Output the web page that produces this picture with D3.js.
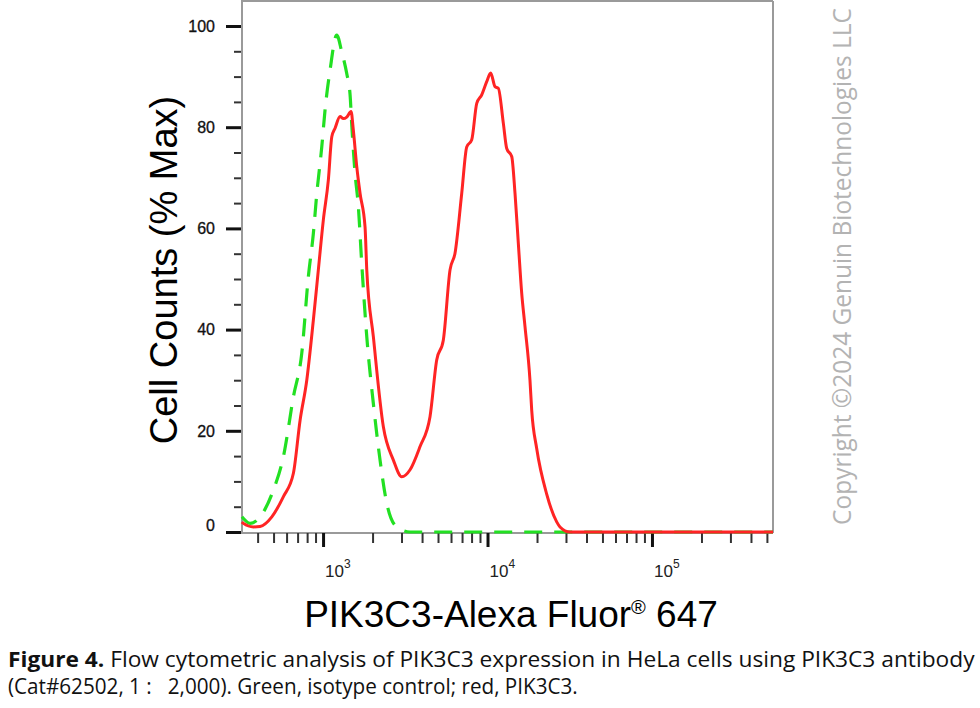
<!DOCTYPE html>
<html>
<head>
<meta charset="utf-8">
<script src="https://cdn.jsdelivr.net/npm/d3@7"></script>
<style>
  body { margin: 0; background: #fff; }
  svg { display: block; }
</style>
</head>
<body>
<div id="chart"></div>
<script>
  // PIK3C3 (red) and isotype control (green): fluorescence vs % of max
  const redX = [321, 328, 377, 414, 488, 574, 660, 725, 796, 873, 936, 1004, 1077, 1130, 1183,
    1269, 1328, 1393, 1480, 1528, 1603, 1679, 1800, 1844, 2022, 2326, 2676, 3009, 3381, 3888,
    4470, 4909, 5385, 5916, 6344, 6968, 7474, 8017, 8599, 9221, 9888, 10458, 11106, 11635, 12477,
    13085, 14034, 14697, 15392, 16139, 16904, 18120, 18565, 19910, 22900, 26340, 27590, 31730, 544500];
  const redY = [2.0, 1.7, 1.0, 1.1, 3.0, 7.0, 11.6, 22.1, 30, 41.9, 51.8, 61.7, 69.6, 78.1, 79.8,
    82.1, 81.7, 82, 83.1, 79.4, 72.2, 66.9, 60.3, 51.8, 38.6, 20.8, 14.2, 10.9, 12.3, 16.9,
    22.8, 34, 37.9, 51.8, 55.1, 66.9, 76.1, 77.5, 84.7, 86.4, 89, 90.7, 88, 87.7, 80.8,
    75.8, 74.2, 66.9, 57.1, 47.2, 40.6, 30, 24.1, 16.5, 7.5, 2, 1, 0, 0];

  const greenX = [321, 360, 414, 499, 574, 660, 742, 814, 873, 916, 982, 1028, 1103, 1211, 1299,
    1393, 1459, 1494, 1565, 1639, 1719, 1844, 2022, 2221, 2439, 2806, 3381, 544500];
  const greenY = [3, 1.7, 3, 8.3, 14.9, 26.7, 35.3, 50.5, 59, 66.9, 76.1, 83.4, 91.3, 98.2, 94.9,
    90.6, 86.5, 80.5, 70.9, 64.3, 53, 38.6, 25.4, 14.2, 5.7, 1.0, 0, 0];

  const yTicks = [0, 20, 40, 60, 80, 100];
  const yMinorTicks = [5, 10, 15, 25, 30, 35, 45, 50, 55, 65, 70, 75, 85, 90, 95];
  const xMajorTicks = [1e3, 1e4, 1e5];
  const xMinorTicks = [400, 500, 600, 700, 800, 900, 2000, 3000, 4000, 5000, 6000, 7000, 8000, 9000,
    20000, 30000, 40000, 50000, 60000, 70000, 80000, 90000, 200000, 300000, 400000, 500000];
  const xExponents = [3, 4, 5];

  const w = 980, h = 708;
  const boxL = 242, boxR = 773, boxT = 1, boxB = 533;

  const svg = d3.select("#chart")
    .append("svg")
    .attr("width", w)
    .attr("height", h);

  const x = d3.scaleLog().domain([321.4, 544500]).range([boxL, boxR]);
  const y = d3.scaleLinear().domain([0, 100]).range([532, 26]);

  function frameLine(pts, width) {
    svg.append("path")
      .attr("d", d3.line()(pts))
      .style("fill", "none")
      .style("stroke", "#9a9a9a")
      .style("stroke-width", width + "px");
  }

  // plot box
  frameLine([[boxL, boxT], [boxR, boxT]], 2);
  frameLine([[boxR, boxT], [boxR, boxB]], 2);
  frameLine([[boxL, 0], [boxL, boxB + 1]], 2);
  frameLine([[boxL, boxB], [boxR, boxB]], 2);

  // y ticks
  const yMajor = svg.append("g")
    .attr("transform", `translate(${boxL - 1},0)`)
    .call(d3.axisLeft(y).tickValues(yTicks).tickSize(15).tickFormat(""));
  yMajor.select(".domain").remove();
  yMajor.selectAll("line").style("stroke", "#111").style("stroke-width", "3px");

  const yMinor = svg.append("g")
    .attr("transform", `translate(${boxL - 1},0)`)
    .call(d3.axisLeft(y).tickValues(yMinorTicks).tickSize(7).tickFormat(""));
  yMinor.select(".domain").remove();
  yMinor.selectAll("line").style("stroke", "#333").style("stroke-width", "2px");

  svg.append("g").selectAll("text")
    .data(yTicks)
    .join("text")
    .attr("x", 215)
    .attr("y", d => Math.min(y(d), 525))
    .attr("dy", "0.36em")
    .attr("text-anchor", "end")
    .style("font-family", "'Liberation Sans', Arial, sans-serif")
    .style("font-size", "16px")
    .style("fill", "#111")
    .style("stroke", "#111")
    .style("stroke-width", "0.3px")
    .text(d => d);

  // x ticks
  const xMajor = svg.append("g")
    .attr("transform", `translate(0,${boxB})`)
    .call(d3.axisBottom(x).tickValues(xMajorTicks).tickSize(14).tickFormat(""));
  xMajor.select(".domain").remove();
  xMajor.selectAll("line").style("stroke", "#111").style("stroke-width", "3px");

  const xMinor = svg.append("g")
    .attr("transform", `translate(0,${boxB})`)
    .call(d3.axisBottom(x).tickValues(xMinorTicks).tickSize(10).tickFormat(""));
  xMinor.select(".domain").remove();
  xMinor.selectAll("line").style("stroke", "#333").style("stroke-width", "2px");

  const xl = svg.append("g").selectAll("text")
    .data(xExponents)
    .join("text")
    .attr("x", d => x(Math.pow(10, d)) + 2)
    .attr("y", 577)
    .style("font-family", "'Liberation Sans', Arial, sans-serif")
    .style("font-size", "17px")
    .style("fill", "#222");
  xl.append("tspan").text("10");
  xl.append("tspan").attr("dy", -9).style("font-size", "12px").text(d => d);

  // histograms
  const line = d3.line()
    .x(d => x(d[0]))
    .y(d => y(d[1]))
    .curve(d3.curveMonotoneX);

  svg.append("path")
    .attr("d", line(greenX.map((v, i) => [v, greenY[i]])))
    .style("fill", "none")
    .style("stroke", "#22e022")
    .style("stroke-width", "3.2px")
    .style("stroke-dasharray", "18,12");

  svg.append("path")
    .attr("d", line(redX.map((v, i) => [v, redY[i]])))
    .style("fill", "none")
    .style("stroke", "#ff2424")
    .style("stroke-width", "3px")
    .style("stroke-linejoin", "round");

  // axis titles
  svg.append("text")
    .attr("transform", "translate(177,270) rotate(-90)")
    .attr("text-anchor", "middle")
    .style("font-family", "'Liberation Sans', Arial, sans-serif")
    .style("font-size", "38px")
    .style("fill", "#000")
    .text("Cell Counts (% Max)");

  const xt = svg.append("text")
    .attr("x", 511)
    .attr("y", 627)
    .attr("text-anchor", "middle")
    .style("font-family", "'Liberation Sans', Arial, sans-serif")
    .style("font-size", "37px")
    .style("fill", "#000");
  xt.append("tspan").text("PIK3C3-Alexa Fluor");
  xt.append("tspan").attr("dy", -13).style("font-size", "20px").text("\u00ae");
  xt.append("tspan").attr("dy", 13).text(" 647");

  // watermark
  function fitText(sel, target) {
    const len = sel.node().getComputedTextLength();
    return target / len;
  }

  const cr = svg.append("text")
    .attr("text-anchor", "middle")
    .style("font-family", "'Open Sans', sans-serif")
    .style("font-size", "25px")
    .style("fill", "#b3b3b3")
    .text("Copyright \u00a92024 Genuin Biotechnologies LLC");
  cr.attr("transform", `translate(851,266.5) rotate(-90) scale(${fitText(cr, 517)},1)`);

  // caption
  const cap1 = svg.append("text")
    .style("font-family", "'Open Sans', sans-serif")
    .style("font-size", "21px")
    .style("fill", "#111");
  cap1.append("tspan").style("font-weight", "bold").text("Figure 4.");
  cap1.append("tspan").text(" Flow cytometric analysis of PIK3C3 expression in HeLa cells using PIK3C3 antibody");
  cap1.attr("transform", `translate(8,667) scale(${fitText(cap1, 967)},1)`);

  const cap2 = svg.append("text")
    .style("font-family", "'Open Sans', sans-serif")
    .style("font-size", "21px")
    .style("fill", "#111")
    .text("(Cat#62502, 1 :\u00a0\u00a0\u00a02,000). Green, isotype control; red, PIK3C3.");
  cap2.attr("transform", `translate(8,694) scale(${fitText(cap2, 570)},1)`);
</script>
</body>
</html>
